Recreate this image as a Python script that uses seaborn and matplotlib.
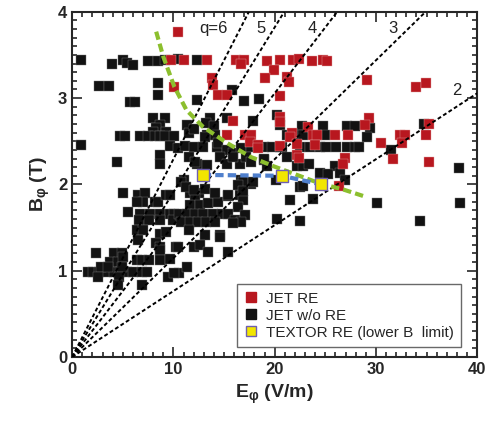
import numpy as np
import pandas as pd
import matplotlib
matplotlib.use("Agg")
import matplotlib.pyplot as plt
import seaborn as sns

# JET with runaway electrons
jet_re_e = [10.5, 9.8, 11.0, 13.3, 16.2, 17.0, 16.7, 19.2, 20.5, 21.8, 22.4, 23.7, 24.8, 25.2,
            10.1, 13.8, 13.9, 14.4, 15.3, 19.9, 19.0, 21.2, 21.4, 20.5, 29.1, 34.0, 34.9,
            15.9, 20.5, 20.5, 23.3, 29.3, 28.9, 35.2,
            15.3, 17.1, 17.7, 17.6, 18.4, 18.4, 20.5, 21.7, 21.5, 23.8, 24.2, 26.0, 27.2,
            22.2, 24.0, 32.4, 32.9, 32.6, 30.5, 34.9,
            22.2, 22.4, 26.9, 26.7, 31.7, 35.2, 26.4]
jet_re_b = [3.77, 3.44, 3.44, 3.44, 3.44, 3.44, 3.40, 3.43, 3.44, 3.44, 3.45, 3.43, 3.44, 3.43,
            3.13, 3.23, 3.15, 3.04, 3.04, 3.32, 3.23, 3.25, 3.19, 3.03, 3.21, 3.13, 3.18,
            2.73, 2.78, 2.72, 2.67, 2.77, 2.69, 2.70,
            2.57, 2.57, 2.57, 2.49, 2.46, 2.42, 2.44, 2.59, 2.55, 2.57, 2.57, 2.57, 2.57,
            2.47, 2.46, 2.57, 2.57, 2.48, 2.48, 2.57,
            2.34, 2.31, 2.31, 2.24, 2.29, 2.26, 1.98]

# JET without runaway electrons
jet_nore_e = [0.9, 3.9, 5.0, 5.4, 6.0, 7.5, 8.5, 9.2, 10.5, 12.3,
              2.7, 3.6, 8.5, 8.5, 5.7, 6.2, 12.3, 15.8, 17.0, 18.5,
              8.0, 9.2, 8.7, 11.3, 11.5, 13.6, 15.3, 17.9, 8.3, 12.0, 13.2, 14.0, 8.0, 9.3,
              4.7, 5.2, 6.7, 7.5, 8.2, 8.7, 9.2, 10.1, 13.3, 14.1, 13.1,
              0.9, 9.7, 10.5, 11.1, 12.0, 12.9, 14.3, 14.4, 15.3, 15.9, 16.7, 17.7, 18.9, 19.7, 20.7,
              8.7, 8.7, 4.4, 14.6, 15.3, 16.6, 15.9, 17.2, 18.9, 19.2, 12.3, 13.3, 11.5, 12.1, 17.7,
              11.0, 16.7, 17.7, 10.8, 16.9, 17.9,
              20.2, 20.5, 22.7, 24.8, 27.1, 27.9, 29.4, 29.1, 21.2, 22.2, 22.8, 25.0,
              20.5, 22.5, 23.5, 24.5, 25.1, 26.1, 27.1, 27.9, 28.3,
              18.9, 21.2, 22.2, 22.8, 23.4, 24.5, 26.0, 26.5, 26.9, 25.3, 22.5, 20.1,
              31.5, 38.2, 34.7, 22.8, 21.5, 23.8, 30.1, 38.3, 20.2, 22.5, 34.4,
              5.0, 6.5, 7.2, 7.0, 6.4, 8.2, 8.5, 9.3, 9.7,
              5.5, 6.7, 7.7, 8.7, 9.7, 10.1, 6.6, 7.6, 8.7, 10.0,
              6.4, 7.0, 8.7, 9.3, 6.5, 8.3, 8.7, 10.3, 8.7,
              2.4, 4.1, 4.9, 3.7, 4.5, 5.0, 6.4, 6.9, 7.6, 8.7, 9.7,
              1.6, 2.1, 2.7, 3.4, 4.1, 4.7, 5.4, 6.0, 6.9, 7.4,
              2.9, 3.5, 4.9, 2.6, 4.6, 9.5, 10.6, 11.3, 10.1, 4.5, 6.9,
              11.6, 12.5, 12.1, 11.6, 12.6, 13.4, 14.4, 15.4, 16.6, 16.9, 16.4,
              10.6, 11.3, 12.1, 12.9, 13.9, 14.8, 15.4, 16.1, 17.1, 16.7,
              10.8, 11.6, 12.4, 13.2, 14.1, 11.5, 13.1, 14.6, 15.9,
              10.5, 12.0, 12.6, 13.4, 15.4, 14.6,
              11.2, 12.0, 13.1, 14.1, 15.4, 16.4, 16.9]
jet_nore_b = [3.44, 3.40, 3.44, 3.41, 3.38, 3.43, 3.43, 3.44, 3.45, 3.44,
              3.14, 3.14, 3.18, 3.04, 2.96, 2.96, 2.98, 3.09, 2.97, 2.99,
              2.77, 2.77, 2.69, 2.69, 2.59, 2.77, 2.77, 2.73, 2.65, 2.64, 2.71, 2.68, 2.61, 2.61,
              2.56, 2.56, 2.56, 2.56, 2.56, 2.56, 2.56, 2.56, 2.57, 2.57, 2.55,
              2.46, 2.44, 2.42, 2.44, 2.43, 2.43, 2.43, 2.48, 2.40, 2.36, 2.42, 2.43, 2.43, 2.43, 2.43,
              2.34, 2.24, 2.26, 2.32, 2.24, 2.24, 2.32, 2.32, 2.28, 2.21, 2.24, 2.22, 2.32, 2.26, 2.26,
              2.05, 2.05, 2.01, 2.03, 2.03, 2.03,
              2.80, 2.69, 2.68, 2.68, 2.68, 2.68, 2.65, 2.55, 2.57, 2.57, 2.57, 2.57,
              2.43, 2.43, 2.43, 2.43, 2.43, 2.43, 2.43, 2.43, 2.43,
              2.30, 2.32, 2.21, 2.21, 2.24, 2.13, 2.21, 2.13, 2.05, 2.12, 1.97, 2.05,
              2.40, 2.19, 2.70, 1.98, 1.82, 1.83, 1.79, 1.79, 1.60, 1.58, 1.58,
              1.90, 1.88, 1.90, 1.80, 1.80, 1.80, 1.80, 1.88, 1.88,
              1.68, 1.66, 1.66, 1.66, 1.66, 1.66, 1.59, 1.59, 1.59, 1.59,
              1.47, 1.47, 1.43, 1.45, 1.36, 1.32, 1.28, 1.28, 1.24,
              1.20, 1.20, 1.20, 1.10, 1.10, 1.16, 1.12, 1.12, 1.12, 1.12, 1.14,
              0.98, 0.98, 0.98, 0.98, 0.98, 0.98, 0.98, 0.98, 0.98, 0.98,
              1.04, 1.04, 1.04, 0.93, 0.93, 0.93, 0.97, 1.04, 0.97, 0.83, 0.83,
              1.90, 1.90, 1.84, 1.76, 1.76, 1.78, 1.80, 1.86, 1.88, 1.82, 1.74,
              1.66, 1.66, 1.66, 1.66, 1.66, 1.66, 1.66, 1.59, 1.65, 1.57,
              1.57, 1.57, 1.57, 1.57, 1.57, 1.47, 1.41, 1.41, 1.55,
              1.28, 1.28, 1.30, 1.22, 1.22, 1.39,
              1.97, 1.93, 1.95, 1.90, 1.88, 1.99, 1.92]

# TEXTOR (lower B limit)
textor_e = [12.9, 20.7, 24.6]
textor_b = [2.11, 2.10, 2.00]

# green dashed boundary curve
curve_e = [8.3, 9.0, 10.1, 11.3, 12.9, 15.3, 17.6, 19.9, 24.5, 26.8, 28.9]
curve_b = [3.77, 3.48, 3.13, 2.86, 2.67, 2.48, 2.32, 2.21, 2.01, 1.94, 1.86]

# safety factor lines B = k*q*E
q_values = [2, 3, 4, 5, 6]
k_per_q = 0.0382
q_labels = ["2", "3", "4", "5", "q=6"]
q_label_e = [38.0, 31.7, 23.7, 18.7, 14.0]
q_label_b = [3.09, 3.81, 3.81, 3.81, 3.81]

sns.set_style("ticks")
plt.rcParams["font.family"] = ["Liberation Sans", "DejaVu Sans"]
plt.rcParams["mathtext.default"] = "regular"

fig = plt.figure(figsize=(4.94, 4.22), dpi=100)
ax = fig.add_axes([0.146, 0.154, 0.820, 0.818])

df_nore = pd.DataFrame({"E": jet_nore_e, "B": jet_nore_b})
df_re = pd.DataFrame({"E": jet_re_e, "B": jet_re_b})
df_tx = pd.DataFrame({"E": textor_e, "B": textor_b})

sns.scatterplot(data=df_nore, x="E", y="B", marker="s", s=50, color="#121212",
                edgecolor="#777777", linewidth=0.3, ax=ax, zorder=2)
sns.scatterplot(data=df_re, x="E", y="B", marker="s", s=44, color="#b8171f",
                edgecolor="#e0a0a0", linewidth=0.3, ax=ax, zorder=3)

e_line = np.array([0.0, 40.0])
for q in q_values:
    ax.plot(e_line, k_per_q * q * e_line, color="black", lw=1.4,
            linestyle=(0, (2, 1.3)), zorder=4)
for lab, le, lb in zip(q_labels, q_label_e, q_label_b):
    ax.text(le, lb, lab, fontsize=12, ha="center", va="center", color="#222222", zorder=5)

sns.lineplot(x=curve_e, y=curve_b, sort=False, color="#8cbf2e", lw=3,
             linestyle=(0, (2, 1)), ax=ax, zorder=5)
sns.lineplot(x=textor_e, y=textor_b, sort=False, color="#4f7fcc", lw=3,
             linestyle=(0, (2, 1)), ax=ax, zorder=5)
sns.scatterplot(data=df_tx, x="E", y="B", marker="s", s=80, color="#f2e600",
                edgecolor="#6f5fb0", linewidth=1.0, ax=ax, zorder=6)

ax.set_xlim(0, 40)
ax.set_ylim(0, 4)
ax.set_xticks([0, 10, 20, 30, 40])
ax.set_yticks([0, 1, 2, 3, 4])
ax.set_xticks(np.arange(0, 41, 1), minor=True)
ax.set_yticks(np.arange(0, 4.01, 0.1), minor=True)
ax.tick_params(which="both", direction="in", top=True, right=True, width=1.2)
ax.tick_params(which="major", length=7, labelsize=12)
ax.tick_params(which="minor", length=3.5)
for lbl in ax.get_xticklabels() + ax.get_yticklabels():
    lbl.set_fontweight("bold")
for sp in ax.spines.values():
    sp.set_linewidth(1.5)

ax.set_xlabel("E$_φ$ (V/m)", fontsize=14, fontweight="bold", labelpad=4)
ax.set_ylabel("B$_φ$ (T)", fontsize=14, fontweight="bold", labelpad=4)

handles = [
    plt.Line2D([], [], marker="s", ls="", ms=7, color="#b8171f", mec="#b8171f"),
    plt.Line2D([], [], marker="s", ls="", ms=7, color="#121212", mec="#121212"),
    plt.Line2D([], [], marker="s", ls="", ms=7, color="#f2e600", mec="#6f5fb0", mew=1.0),
]
labels = ["JET RE", "JET w/o RE", "TEXTOR RE (lower B  limit)"]
leg = ax.legend(handles, labels, loc="lower right", bbox_to_anchor=(0.961, 0.028),
                borderaxespad=0, fontsize=11, frameon=True, fancybox=False,
                handlelength=0.8, handletextpad=0.6, labelspacing=0.2, borderpad=0.5)
leg.get_frame().set_edgecolor("#444444")
leg.get_frame().set_linewidth(1.0)

fig.savefig("out.png", dpi=100)
